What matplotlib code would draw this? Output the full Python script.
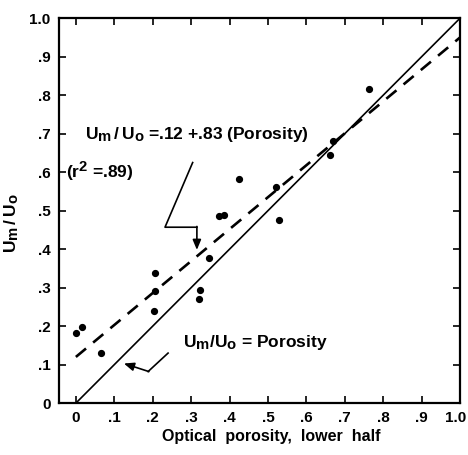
import numpy as np
import matplotlib
matplotlib.use("Agg")
import matplotlib.pyplot as plt
import matplotlib.transforms as mtransforms
import matplotlib._mathtext as mathtext_internal

plt.rcParams['font.family'] = ['Liberation Sans', 'DejaVu Sans']
plt.rcParams['font.weight'] = 'bold'
plt.rcParams['axes.labelweight'] = 'bold'
plt.rcParams['mathtext.fontset'] = 'custom'
plt.rcParams['mathtext.rm'] = 'Liberation Sans:bold'
plt.rcParams['mathtext.it'] = 'Liberation Sans:bold'
plt.rcParams['mathtext.default'] = 'rm'
# subscripts in the original are nearly full size
mathtext_internal.SHRINK_FACTOR = 0.85

# measured points (optical porosity, Um/Uo)
porosity = [0.000, 0.017, 0.065, 0.204, 0.206, 0.207, 0.321, 0.324, 0.346,
            0.372, 0.385, 0.425, 0.521, 0.529, 0.661, 0.670, 0.764]
um_uo = [0.181, 0.197, 0.129, 0.240, 0.292, 0.338, 0.270, 0.294, 0.378,
         0.486, 0.488, 0.581, 0.562, 0.475, 0.644, 0.681, 0.816]

# regression fit and 1:1 line
intercept, slope = 0.12, 0.83
line_x = np.array([0.0, 1.0])

tick_vals = np.arange(0, 1.01, 0.1)
tick_labels = ["0", ".1", ".2", ".3", ".4", ".5", ".6", ".7", ".8", ".9", "1.0"]

fig = plt.figure(figsize=(4.68, 4.55), dpi=100)
ax = fig.add_axes([0.126, 0.114, 0.857, 0.846])

ax.plot(line_x, line_x, color="black", lw=1.2)
ax.plot(line_x, intercept + slope * line_x, color="black", lw=1.9,
        dashes=(5, 3.5))
ax.plot(porosity, um_uo, "o", color="black", ms=4.2)

ax.set_xlim(-0.044, 1.0)
ax.set_ylim(0, 1.0)
ax.set_xticks(tick_vals)
ax.set_xticklabels(tick_labels)
ax.set_yticks(tick_vals)
ax.set_yticklabels(tick_labels)
ax.tick_params(direction="in", length=5, width=1.2, labelsize=11,
               top=True, right=True, pad=6)
for s in ax.spines.values():
    s.set_linewidth(1.6)

# nudge the last x label so it stays inside the picture
last = ax.get_xticklabels()[-1]
last.set_transform(last.get_transform() +
                   mtransforms.ScaledTranslation(-3.5 / 72, 0, fig.dpi_scale_trans))

ax.set_xlabel("Optical  porosity,  lower  half", fontsize=11.5)
ax.xaxis.set_label_coords(0.529, -0.068)
ax.set_ylabel(r"$U_m\,/\,U_o$", fontsize=12.5)
ax.yaxis.set_label_coords(-0.095, 0.467)

ax.text(0.024, 0.698, r"$U_m\,/\,U_o$ =.12 +.83 (Porosity)", fontsize=12.5,
        va="center", ha="left")
ax.text(-0.025, 0.603, r"(r$^2$ =.89)", fontsize=12.5, va="center", ha="left")
ax.text(0.278, 0.158, r"$U_m/U_o$ = Porosity", fontsize=12.5,
        va="center", ha="left")

# kinked arrow to the fit line
ax.plot([0.304, 0.232, 0.315], [0.625, 0.457, 0.457], color="black", lw=1.2)
ax.annotate("", xy=(0.315, 0.398), xytext=(0.315, 0.459),
            arrowprops=dict(arrowstyle="-|>,head_length=0.6,head_width=0.25",
                            color="black", lw=1.2, shrinkA=0, shrinkB=0))

# kinked arrow to the 1:1 line
ax.plot([0.24, 0.188], [0.130, 0.082], color="black", lw=1.2)
ax.annotate("", xy=(0.125, 0.103), xytext=(0.190, 0.082),
            arrowprops=dict(arrowstyle="-|>,head_length=0.6,head_width=0.25",
                            color="black", lw=1.2, shrinkA=0, shrinkB=0))

fig.savefig("out.png", dpi=100)
